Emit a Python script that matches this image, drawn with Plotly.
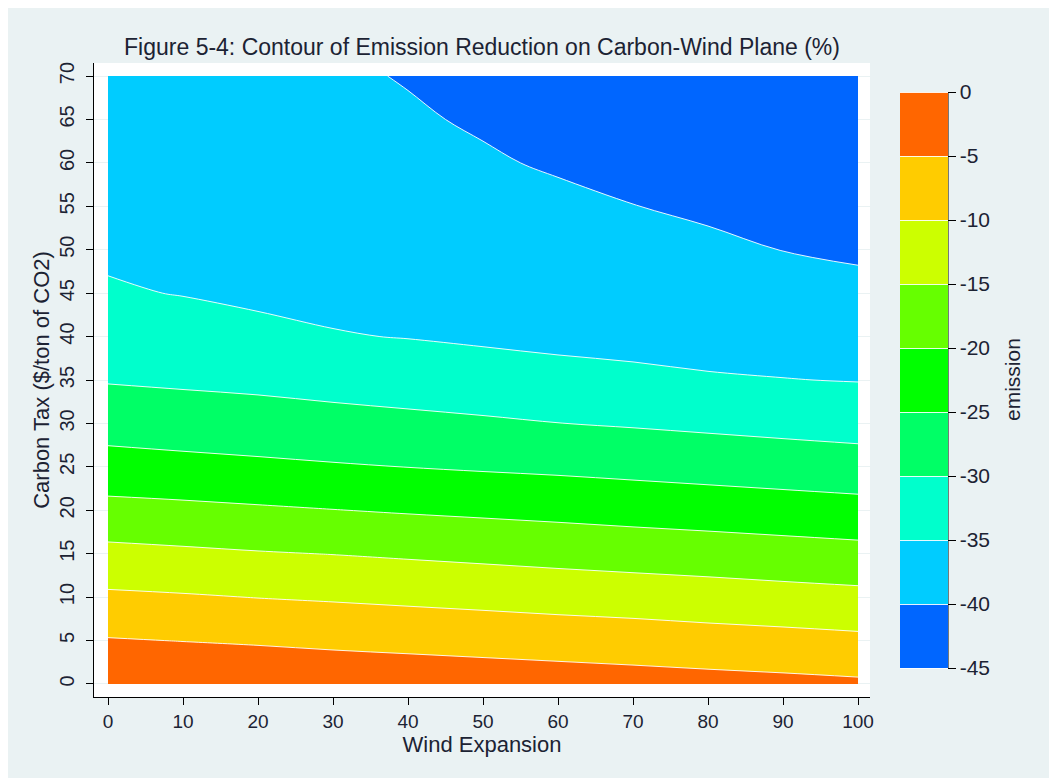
import plotly.graph_objects as go

# ---- data ----
wind = [0, 10, 20, 30, 40, 50, 60, 70, 80, 90, 100]
tax = [0, 5, 10, 15, 20, 25, 30, 35, 40, 45, 50, 55, 60, 65, 70]

# emission (%) by wind expansion column, values for tax = 0..70
em_w0 = [-0.3, -4.7, -9.2, -13.7, -18.5, -23.1, -27.0, -30.3, -32.5, -34.6, -35.6, -36.3, -36.9, -37.5, -38.0]
em_w10 = [-0.65, -5.1, -9.6, -14.2, -18.9, -23.6, -27.5, -30.7, -33.1, -35.15, -35.9, -36.6, -37.3, -38.0, -38.6]
em_w20 = [-1.0, -5.5, -10.1, -14.7, -19.4, -24.1, -27.9, -31.1, -33.9, -35.8, -36.6, -37.3, -38.0, -38.6, -39.2]
em_w30 = [-1.4, -6.0, -10.5, -15.1, -19.9, -24.6, -28.4, -31.7, -34.75, -36.1, -36.9, -37.7, -38.4, -39.0, -39.6]
em_w40 = [-1.8, -6.4, -10.95, -15.6, -20.4, -25.05, -28.9, -32.2, -35.15, -36.4, -37.4, -38.2, -39.0, -39.7, -40.15]
em_w50 = [-2.2, -6.8, -11.4, -16.1, -20.85, -25.5, -29.4, -32.7, -35.7, -36.8, -37.8, -38.8, -39.7, -40.3, -41.2]
em_w60 = [-2.6, -7.2, -11.9, -16.6, -21.3, -25.9, -29.95, -33.5, -36.1, -37.2, -38.3, -39.4, -40.3, -41.2, -42.0]
em_w70 = [-3.0, -7.6, -12.3, -17.1, -21.8, -26.4, -30.4, -34.0, -36.4, -37.6, -38.8, -39.95, -40.9, -41.8, -42.7]
em_w80 = [-3.4, -8.1, -12.8, -17.5, -22.3, -26.9, -30.9, -34.6, -36.6, -38.0, -39.4, -40.5, -41.5, -42.4, -43.3]
em_w90 = [-3.8, -8.5, -13.3, -18.0, -22.8, -27.4, -31.4, -34.9, -36.8, -38.4, -40.05, -41.1, -42.1, -43.1, -44.0]
em_w100 = [-4.25, -9.0, -13.75, -18.5, -23.3, -27.9, -31.85, -35.15, -37.1, -39.1, -40.5, -41.5, -42.5, -43.5, -44.4]

levels = [-45, -40, -35, -30, -25, -20, -15, -10, -5, 0]
level_labels = ["-45", "-40", "-35", "-30", "-25", "-20", "-15", "-10", "-5", "0"]
band_colors = ["#0066FF", "#00CCFF", "#00FFCC", "#00FF66", "#00FF00",
               "#66FF00", "#CCFF00", "#FFCC00", "#FF6600"]
x_ticks = [0, 10, 20, 30, 40, 50, 60, 70, 80, 90, 100]
y_ticks = [0, 5, 10, 15, 20, 25, 30, 35, 40, 45, 50, 55, 60, 65, 70]

columns = [em_w0, em_w10, em_w20, em_w30, em_w40, em_w50, em_w60,
           em_w70, em_w80, em_w90, em_w100]
z = [[col[i] for col in columns] for i in range(len(tax))]

# stepped colour scale
nb = len(band_colors)
colorscale = []
for k, c in enumerate(band_colors):
    colorscale.append([k / nb, c])
    colorscale.append([(k + 1) / nb, c])

# page offset of the figure (body margin) is 8px
OFF = 8
W, H = 1049, 770
ml, mr, mt, mb = 86, 187, 55, 81
pw = W - ml - mr
ph = H - mt - mb
cb_x = (900 - OFF - ml) / pw
cb_thick = 48
cb_len = 576

TXT = "#1c2333"
FONT = "Arial, Liberation Sans, sans-serif"

fig = go.Figure()
fig.add_trace(go.Contour(
    x=wind, y=tax, z=z,
    zmin=levels[0], zmax=levels[-1],
    autocontour=False,
    contours=dict(start=levels[0], end=levels[-1], size=5, coloring="fill"),
    colorscale=colorscale,
    line=dict(color="rgba(255,255,255,0.9)", width=1),
    colorbar=dict(
        x=cb_x, xanchor="left", xpad=0,
        y=0.5, yanchor="middle", ypad=0,
        len=cb_len, lenmode="pixels",
        thickness=cb_thick, outlinewidth=0,
        tickvals=levels, ticktext=level_labels,
        ticks="outside", ticklen=8, tickwidth=1,
        tickcolor="black",
        tickfont=dict(family=FONT, size=21, color=TXT),
    ),
    hoverinfo="x+y+z",
))

# colorbar axis line on the right edge of the bar
line_x = cb_x + cb_thick / pw
half = cb_len / ph / 2
fig.add_shape(type="line", xref="paper", yref="paper",
              x0=line_x, x1=line_x, y0=0.5 - half, y1=0.5 + half,
              line=dict(color="black", width=1))

# colorbar title
fig.add_annotation(text="emission", xref="paper", yref="paper",
                   x=(1012 - OFF - ml) / pw, y=0.5, xanchor="center",
                   yanchor="middle", textangle=-90, showarrow=False,
                   font=dict(family=FONT, size=21, color=TXT))

fig.update_layout(
    width=W, height=H,
    margin=dict(l=ml, r=mr, t=mt, b=mb, autoexpand=False),
    paper_bgcolor="#EAF2F3",
    plot_bgcolor="white",
    font=dict(family=FONT, color=TXT),
    title=dict(text="Figure 5-4: Contour of Emission Reduction on Carbon-Wind Plane (%)",
               x=0.5, xref="paper", xanchor="center",
               y=1 - (47 - OFF) / H, yref="container", yanchor="middle",
               font=dict(family=FONT, size=23, color=TXT)),
    xaxis=dict(range=[-1.867, 101.6], tickvals=x_ticks, ticks="outside",
               ticklen=7, tickcolor="black", showline=True, linecolor="black",
               linewidth=1, showgrid=False, zeroline=False, mirror=False,
               automargin=False,
               tickfont=dict(family=FONT, size=19, color=TXT),
               title=dict(text="Wind Expansion", standoff=2,
                          font=dict(family=FONT, size=22, color=TXT))),
    yaxis=dict(range=[-1.5, 71.5], tickvals=y_ticks, ticks="outside",
               ticklen=7, tickcolor="black", showline=True, linecolor="black",
               linewidth=1, showgrid=True, gridcolor="#EAF2F3", gridwidth=1,
               zeroline=False, tickangle=-90, automargin=False,
               ticklabelstandoff=4,
               tickfont=dict(family=FONT, size=20, color=TXT),
               title=dict(text="Carbon Tax ($/ton of CO2)", standoff=0,
                          font=dict(family=FONT, size=22, color=TXT))),
)

fig.write_html("out.html")
